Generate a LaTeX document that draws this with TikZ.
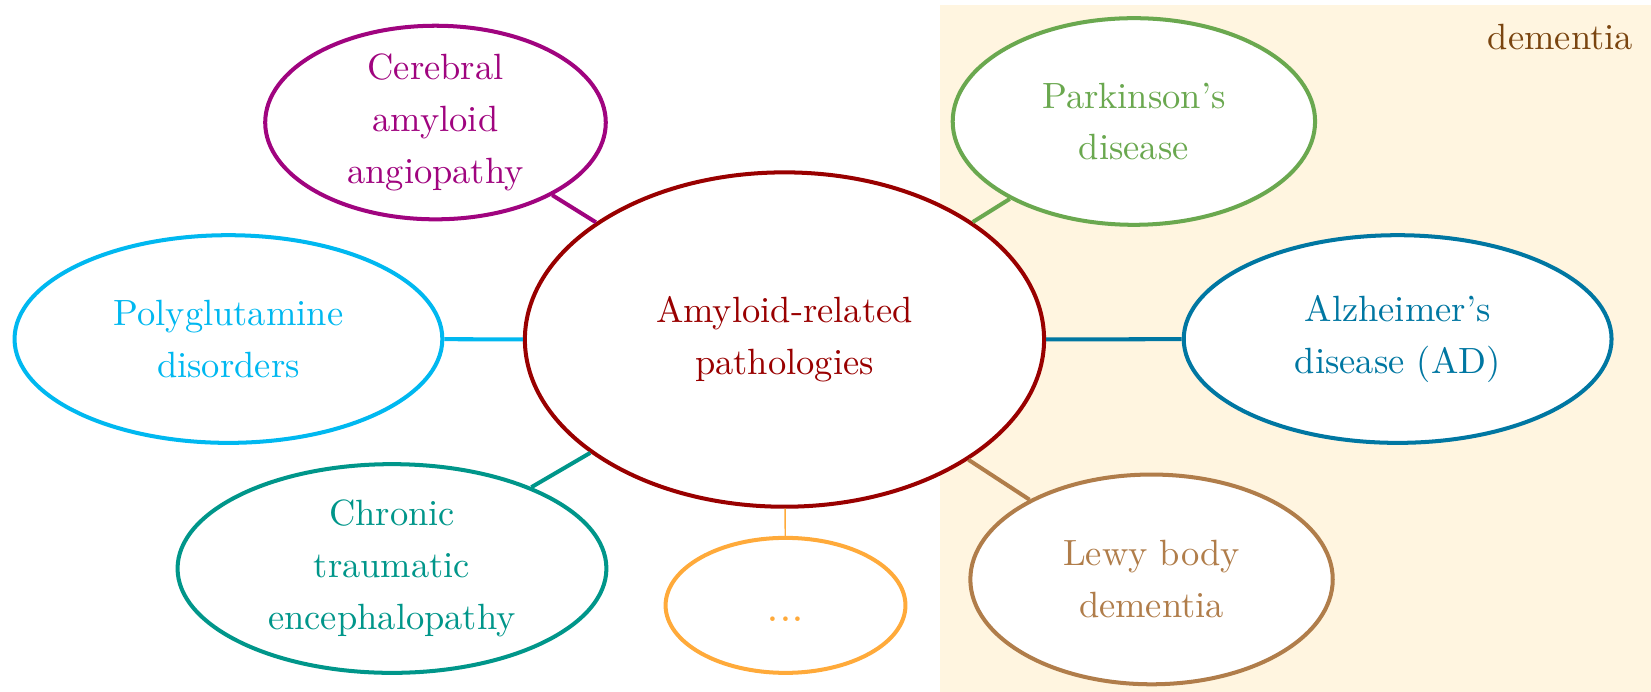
\documentclass[tikz,border=0pt]{standalone}
\usetikzlibrary{shapes.geometric}
\definecolor{amyred}{HTML}{990000}
\definecolor{caapurple}{HTML}{A0047F}
\definecolor{polycyan}{HTML}{00B8F0}
\definecolor{cteteal}{HTML}{00968A}
\definecolor{dotsorange}{HTML}{FFAA3A}
\definecolor{pdgreen}{HTML}{6AA84F}
\definecolor{adblue}{HTML}{0077A2}
\definecolor{lewybrown}{HTML}{B07D4A}
\definecolor{dementiabg}{HTML}{FFF5E0}
\definecolor{dementiatext}{HTML}{7A4510}
\begin{document}
\begin{tikzpicture}[
    bubble/.style={ellipse, draw, line width=1.1pt, fill=white, align=center, inner sep=0pt,
        font=\fontsize{10}{14.2}\selectfont},
    link/.style={line width=1.1pt}
]
    \useasboundingbox (0,0) rectangle (15.9,6.66);

    % dementia area
    \fill[dementiabg] (9.05,0) rectangle (15.9,6.616);
    \node[anchor=base east, text=dementiatext] (dementia) at (15.85,6.18) {dementia};

    \node[bubble, draw=amyred, text=amyred, minimum width=5.0cm, minimum height=3.22cm] (amyloid) at (7.555,3.39) {Amyloid-related\\pathologies};

    \node[bubble, draw=caapurple, text=caapurple, minimum width=3.28cm, minimum height=1.80cm] (caa) at (4.194,5.48) {Cerebral\\amyloid\\angiopathy};
    \node[bubble, draw=polycyan, text=polycyan, minimum width=4.12cm, minimum height=2.0cm] (polyq) at (2.20,3.395) {Polyglutamine\\disorders};
    \node[bubble, draw=cteteal, text=cteteal, minimum width=4.13cm, minimum height=2.01cm] (cte) at (3.775,1.185) {Chronic\\traumatic\\encephalopathy};
    \node[bubble, draw=dotsorange, text=dotsorange, minimum width=2.31cm, minimum height=1.30cm, font=\fontsize{13}{15}\selectfont] (more) at (7.565,0.83) {\smash{\raisebox{-4.5pt}{...}}};

    \node[bubble, draw=pdgreen, text=pdgreen, minimum width=3.49cm, minimum height=1.99cm] (pd) at (10.92,5.49) {Parkinson's\\disease};
    \node[bubble, draw=adblue, text=adblue, minimum width=4.12cm, minimum height=2.0cm] (ad) at (13.46,3.395) {Alzheimer's\\disease (AD)};
    \node[bubble, draw=lewybrown, text=lewybrown, minimum width=3.49cm, minimum height=2.02cm] (lewy) at (11.09,1.08) {Lewy body\\dementia};

    % links
    \draw[link, caapurple] (amyloid) -- (caa);
    \draw[link, polycyan] (amyloid) -- (polyq);
    \draw[link, cteteal] (amyloid) -- (cte);
    \draw[thin, dotsorange] (amyloid) -- (more);
    \draw[link, pdgreen] (amyloid) -- (pd);
    \draw[link, adblue] (amyloid) -- (ad);
    \draw[link, lewybrown] (amyloid) -- (lewy);
\end{tikzpicture}
\end{document}
